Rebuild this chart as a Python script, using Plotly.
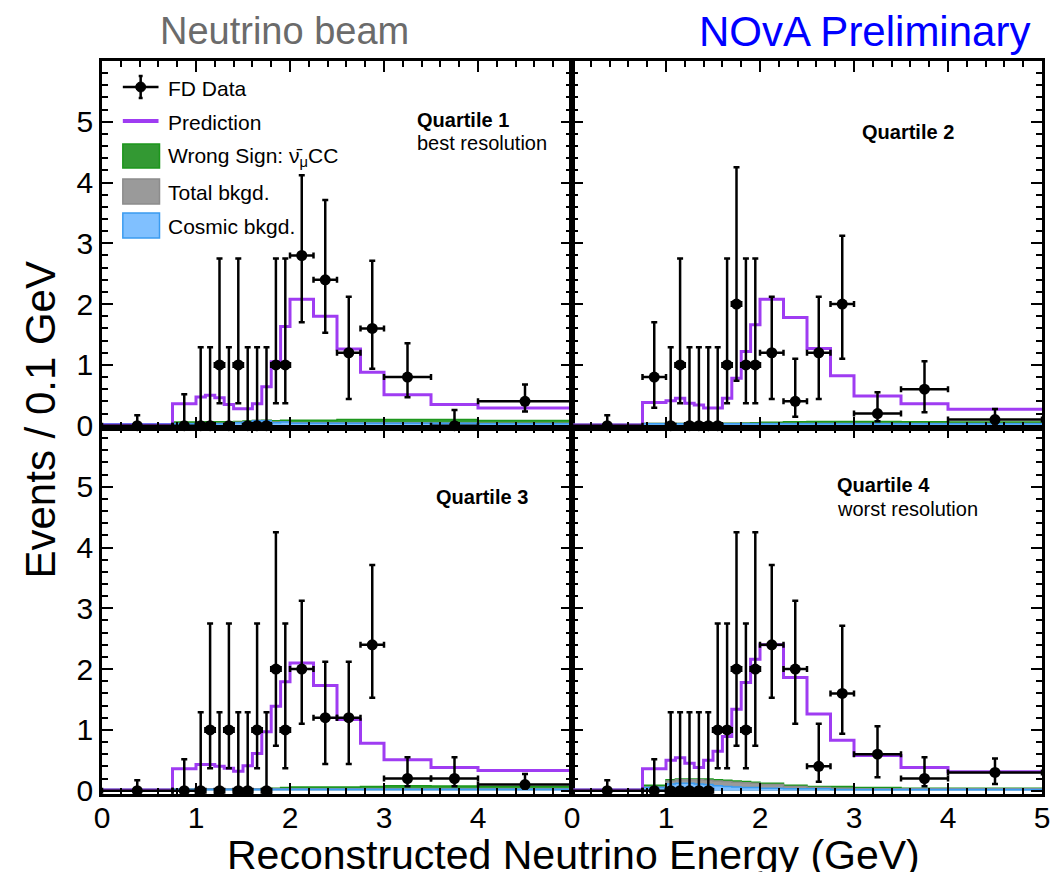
import plotly.graph_objects as go
from plotly.subplots import make_subplots

# Reconstructed-energy binning (GeV); plotted as events per 0.1 GeV
edges = [0.0, 0.75, 1.0, 1.1, 1.2, 1.3, 1.4, 1.5, 1.6, 1.7, 1.8, 1.9,
         2.0, 2.25, 2.5, 2.75, 3.0, 3.5, 4.0, 5.0]

# Observed FD event counts per bin, one list per resolution quartile
q1_counts = [0, 0, 0, 0, 1, 0, 1, 0, 0, 0, 1, 1, 7, 6, 3, 4, 4, 0, 4]
q2_counts = [0, 2, 0, 1, 0, 0, 0, 0, 1, 2, 1, 1, 3, 1, 3, 5, 1, 3, 1]
q3_counts = [0, 0, 0, 1, 0, 1, 0, 0, 1, 0, 2, 1, 5, 3, 3, 6, 1, 1, 1]
q4_counts = [0, 0, 0, 0, 0, 0, 0, 1, 1, 2, 1, 2, 6, 5, 1, 4, 3, 1, 3]

# Predicted spectra (events / 0.1 GeV)
q1_pred = [0.01, 0.36, 0.47, 0.50, 0.46, 0.35, 0.28, 0.28, 0.36, 0.64, 1.05, 1.63,
           2.08, 1.80, 1.26, 0.88, 0.51, 0.35, 0.29]
q2_pred = [0.01, 0.38, 0.41, 0.45, 0.37, 0.34, 0.29, 0.29, 0.45, 0.78, 1.22, 1.66,
           2.08, 1.78, 1.27, 0.82, 0.49, 0.36, 0.27]
q3_pred = [0.01, 0.36, 0.43, 0.43, 0.40, 0.37, 0.32, 0.41, 0.61, 0.97, 1.39, 1.79,
           2.10, 1.73, 1.17, 0.78, 0.51, 0.38, 0.33]
q4_pred = [0.01, 0.36, 0.50, 0.54, 0.45, 0.38, 0.50, 0.65, 0.89, 1.34, 1.78, 2.16,
           2.40, 1.86, 1.26, 0.83, 0.58, 0.38, 0.31]

# Cosmic background (events / 0.1 GeV)
q1_cosmic = [0.03, 0.03, 0.03, 0.03, 0.03, 0.03, 0.05, 0.06, 0.08, 0.08, 0.05, 0.06,
             0.04, 0.04, 0.04, 0.04, 0.04, 0.04, 0.03]
q2_cosmic = [0.02, 0.03, 0.03, 0.03, 0.03, 0.03, 0.03, 0.03, 0.03, 0.03, 0.03, 0.03,
             0.03, 0.03, 0.03, 0.03, 0.03, 0.03, 0.03]
q3_cosmic = [0.02, 0.025, 0.025, 0.025, 0.025, 0.025, 0.025, 0.025, 0.025, 0.025, 0.025,
             0.025, 0.025, 0.025, 0.025, 0.025, 0.025, 0.025, 0.025]
q4_cosmic = [0.02, 0.05, 0.11, 0.12, 0.12, 0.11, 0.10, 0.08, 0.07, 0.06, 0.05, 0.05,
             0.04, 0.03, 0.03, 0.02, 0.02, 0.02, 0.02]

# Total background, cosmic included (events / 0.1 GeV)
q1_bkgd = [0.03, 0.035, 0.04, 0.04, 0.04, 0.04, 0.055, 0.065, 0.085, 0.085, 0.06, 0.065,
           0.05, 0.05, 0.05, 0.05, 0.05, 0.045, 0.04]
q2_bkgd = [0.02, 0.035, 0.035, 0.035, 0.035, 0.035, 0.035, 0.035, 0.035, 0.035, 0.035,
           0.035, 0.035, 0.035, 0.035, 0.035, 0.035, 0.035, 0.035]
q3_bkgd = [0.02, 0.03, 0.03, 0.03, 0.03, 0.03, 0.03, 0.03, 0.03, 0.03, 0.03, 0.03,
           0.03, 0.03, 0.03, 0.03, 0.03, 0.03, 0.03]
q4_bkgd = [0.02, 0.06, 0.16, 0.18, 0.18, 0.18, 0.17, 0.16, 0.15, 0.14, 0.13, 0.12,
           0.10, 0.07, 0.05, 0.04, 0.03, 0.03, 0.03]

# Wrong-sign (anti-numu CC) contribution, stacked on the total background
q1_ws = [0.0, 0.025, 0.02, 0.025, 0.025, 0.025, 0.015, 0.01, 0.0, 0.005, 0.02, 0.025,
         0.04, 0.04, 0.05, 0.05, 0.05, 0.055, 0.045]
q2_ws = [0.0, 0.0, 0.0, 0.0, 0.0, 0.0, 0.0, 0.005, 0.005, 0.005, 0.01, 0.015,
         0.02, 0.03, 0.035, 0.035, 0.035, 0.03, 0.025]
q3_ws = [0.0, 0.0, 0.0, 0.0, 0.0, 0.0, 0.0, 0.0, 0.0, 0.005, 0.01, 0.02,
         0.03, 0.03, 0.03, 0.04, 0.05, 0.045, 0.04]
q4_ws = [0.0, 0.03, 0.02, 0.01, 0.01, 0.01, 0.02, 0.02, 0.02, 0.02, 0.02, 0.02,
         0.02, 0.02, 0.02, 0.03, 0.02, 0.01, 0.01]

# Feldman-Cousins 68.27% intervals for an observed count (b = 0)
fc_low = [0.00, 0.37, 0.74, 1.10, 2.34, 2.75, 3.82, 4.25]
fc_high = [1.29, 2.75, 4.25, 5.30, 6.78, 7.81, 9.28, 10.30]

x_ticks = [0, 1, 2, 3, 4, 5]
y_ticks = [0, 1, 2, 3, 4, 5]

quartiles = [
    dict(counts=q1_counts, pred=q1_pred, cosmic=q1_cosmic, bkgd=q1_bkgd, ws=q1_ws, row=1, col=1),
    dict(counts=q2_counts, pred=q2_pred, cosmic=q2_cosmic, bkgd=q2_bkgd, ws=q2_ws, row=1, col=2),
    dict(counts=q3_counts, pred=q3_pred, cosmic=q3_cosmic, bkgd=q3_bkgd, ws=q3_ws, row=2, col=1),
    dict(counts=q4_counts, pred=q4_pred, cosmic=q4_cosmic, bkgd=q4_bkgd, ws=q4_ws, row=2, col=2),
]

PURPLE = "#9f3cf2"
GREEN_FILL, GREEN_LINE = "#33a033", "#1c961c"
GRAY_FILL, GRAY_LINE = "#9a9a9a", "#8c8c8c"
BLUE_FILL, BLUE_LINE = "#7fbfff", "#3a9bf0"
FONT = "Liberation Sans, Arial, Helvetica, sans-serif"

widths = [edges[i + 1] - edges[i] for i in range(len(edges) - 1)]
centers = [(edges[i] + edges[i + 1]) / 2 for i in range(len(edges) - 1)]


def step(vals):
    return list(edges), list(vals) + [vals[-1]]


fig = make_subplots(rows=2, cols=2, horizontal_spacing=0, vertical_spacing=0)

for q in quartiles:
    r, c = q["row"], q["col"]
    ws_top = [b + w for b, w in zip(q["bkgd"], q["ws"])]
    for vals, fillc, linec in [(ws_top, GREEN_FILL, GREEN_LINE),
                               (q["bkgd"], GRAY_FILL, GRAY_LINE),
                               (q["cosmic"], BLUE_FILL, BLUE_LINE)]:
        xs, ys = step(vals)
        fig.add_trace(go.Scatter(x=xs, y=ys, mode="lines", line=dict(shape="hv", color=linec, width=1.5),
                                 fill="tozeroy", fillcolor=fillc, showlegend=False, hoverinfo="skip"),
                      row=r, col=c)
    xs, ys = step(q["pred"])
    fig.add_trace(go.Scatter(x=xs, y=ys, mode="lines", line=dict(shape="hv", color=PURPLE, width=3),
                             showlegend=False), row=r, col=c)

    scale = [0.1 / w for w in widths]
    yv = [n * s for n, s in zip(q["counts"], scale)]
    e_up = [(fc_high[n] - n) * s for n, s in zip(q["counts"], scale)]
    e_dn = [(n - fc_low[n]) * s for n, s in zip(q["counts"], scale)]
    fig.add_trace(go.Scatter(
        x=centers, y=yv, mode="markers", cliponaxis=False,
        marker=dict(color="black", size=11),
        error_y=dict(type="data", symmetric=False, array=e_up, arrayminus=e_dn,
                     color="black", thickness=2.5, width=3),
        error_x=dict(type="data", array=[w / 2 for w in widths], color="black", thickness=2.5, width=3),
        showlegend=False), row=r, col=c)

axis_common = dict(showline=True, linewidth=2.5, linecolor="black", mirror="allticks",
                   ticks="inside", ticklen=11, tickwidth=2, tickcolor="black",
                   showgrid=False, zeroline=False,
                   tickfont=dict(family=FONT, size=30, color="black"),
                   minor=dict(ticks="inside", ticklen=6, tickwidth=1.5, dtick=0.2, tickcolor="black",
                              showgrid=False))

for r in (1, 2):
    for c in (1, 2):
        xvals = x_ticks if c == 2 else x_ticks[:-1]
        fig.update_xaxes(range=[0, 5], tickvals=xvals, showticklabels=(r == 2), ticklabelstandoff=-5,
                         row=r, col=c, **axis_common)
        yr = [-0.03, 6.0] if r == 1 else [-0.055, 5.975]
        fig.update_yaxes(range=yr, tickvals=y_ticks, showticklabels=(c == 1), ticklabelstandoff=0,
                         row=r, col=c, **axis_common)

L, R, T, B = 102, 12, 61, 78
W, H = 1062 - L - R, 872 - T - B


def px(x):
    return (x - L) / W


def py(y):
    return (872 - B - y) / H


ann = []


def text(x, y, s, size, color="black", xanchor="left", angle=0):
    ann.append(dict(x=px(x), y=py(y), xref="paper", yref="paper", text=s, showarrow=False,
                    xanchor=xanchor, yanchor="middle", textangle=angle,
                    font=dict(family=FONT, size=size, color=color)))


text(158, 31, "Neutrino beam", 38, color="#6b6b6b")
text(1040, 31, "NOvA Preliminary", 42, color="#0000ff", xanchor="right")
text(578, 855, "Reconstructed Neutrino Energy (GeV)", 41, xanchor="center")
text(40, 420, "Events / 0.1 GeV", 42, xanchor="center", angle=-90)

text(418, 120, "<b>Quartile 1</b>", 20)
text(418, 143, "best resolution", 20)
text(866, 132, "<b>Quartile 2</b>", 20)
text(437, 497, "<b>Quartile 3</b>", 20)
text(841, 485, "<b>Quartile 4</b>", 20)
text(841, 509, "worst resolution", 20)

# Legend drawn in the upper-left panel
shapes = []


def pline(x0, y0, x1, y1, color, width):
    shapes.append(dict(type="line", xref="paper", yref="paper", x0=px(x0), y0=py(y0), x1=px(x1), y1=py(y1),
                       line=dict(color=color, width=width)))


def pbox(x0, y0, x1, y1, fillc, linec):
    shapes.append(dict(type="rect", xref="paper", yref="paper", x0=px(x0), y0=py(y0), x1=px(x1), y1=py(y1),
                       fillcolor=fillc, line=dict(color=linec, width=1.5)))


pline(123, 87, 159, 87, "black", 2.5)
pline(141, 76, 141, 98, "black", 2.5)
pline(139, 76, 143, 76, "black", 2.5)
pline(139, 98, 143, 98, "black", 2.5)
shapes.append(dict(type="circle", xref="paper", yref="paper", x0=px(136), y0=py(82), x1=px(146), y1=py(92),
                   fillcolor="black", line=dict(color="black", width=1)))
pline(123, 121, 159, 121, PURPLE, 4)
pbox(123, 144, 160, 168, "#339933", "#1c961c")
pbox(123, 179, 160, 204, "#9a9a9a", "#8c8c8c")
pbox(123, 213, 160, 238, "#80c0ff", "#3a9bf0")

text(167, 88, "FD Data", 21)
text(167, 122, "Prediction", 21)
text(167, 157, "Wrong Sign: \u03bd\u0304<sub>\u03bc</sub>CC", 21)
text(167, 192, "Total bkgd.", 21)
text(167, 226, "Cosmic bkgd.", 21)

fig.update_layout(width=1062, height=872, margin=dict(l=L, r=R, t=T, b=B),
                  paper_bgcolor="white", plot_bgcolor="white",
                  annotations=ann, shapes=shapes, showlegend=False,
                  font=dict(family=FONT))

fig.write_html("out.html")
